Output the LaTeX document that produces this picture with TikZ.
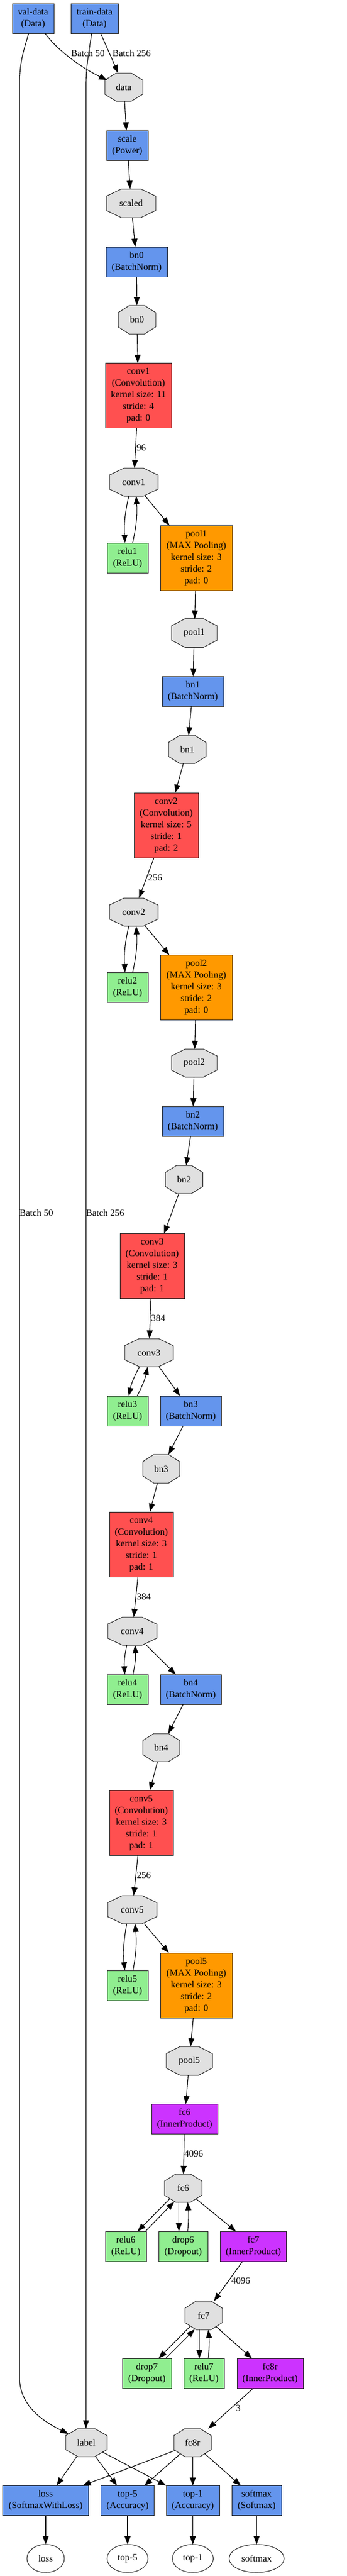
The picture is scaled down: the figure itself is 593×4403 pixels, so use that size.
\documentclass[tikz,border=0pt]{standalone}
\usepackage{fontspec}
\setmainfont{Liberation Serif}
\usetikzlibrary{arrows.meta,calc,backgrounds,shapes.geometric}
\definecolor{cblue}{HTML}{6495ED}
\definecolor{cred}{HTML}{FF5050}
\definecolor{corange}{HTML}{FF9900}
\definecolor{cgreen}{HTML}{90EE90}
\definecolor{cpurple}{HTML}{CC33FF}
\definecolor{cgray}{HTML}{E0E0E0}
\definecolor{bordercol}{HTML}{262626}
\newcommand{\fsz}{\fontsize{16pt}{20pt}\selectfont}
\begin{document}
\begin{tikzpicture}[x=1pt,y=-1pt,
  base/.style={font=\fsz, align=center, inner sep=0pt, outer sep=0pt},
  box/.style={base, rectangle, draw=bordercol, line width=1pt, minimum height=51pt},
  big/.style={box, minimum height=111pt},
  blayer/.style={box, fill=cblue},
  conv/.style={big, fill=cred},
  pool/.style={big, fill=corange},
  neuron/.style={box, fill=cgreen},
  ip/.style={box, fill=cpurple},
  blob/.style={base, rectangle, minimum height=48pt},
  octstyle/.style={fill=cgray, draw=bordercol, line width=1pt, line join=miter},
  outblob/.style={base, ellipse, draw=bordercol, line width=1pt, minimum height=48pt},
  arr/.style={line width=1.1pt, draw=black, -{Triangle[length=14pt,width=10pt]}},
  lbl/.style={base}]
\begin{pgfonlayer}{background}
\fill[white] (0,0) rectangle (593,4403);
\end{pgfonlayer}
\useasboundingbox (0,0) rectangle (593,4403);

% ---------- nodes ----------
\node[blayer, minimum width=71pt] (valdata) at (56.5,31.5) {val-data\\(Data)};
\node[blayer, minimum width=81pt] (traindata) at (161.5,31.5) {train-data\\(Data)};
\node[blob, minimum width=65pt] (data) at (211.5,149) {data};
\node[blayer, minimum width=71pt] (scale) at (217.5,248.5) {scale\\(Power)};
\node[blob, minimum width=84pt, minimum height=49pt] (scaled) at (224,347.5) {scaled};
\node[blayer, minimum width=105pt] (bn0) at (233.5,447.5) {bn0\\(BatchNorm)};
\node[blob, minimum width=64pt, minimum height=49pt] (bn0o) at (234,546.5) {bn0};
\node[conv, minimum width=113pt] (conv1) at (236.5,676) {conv1\\(Convolution)\\kernel size: 11\\stride: 4\\pad: 0};
\node[blob, minimum width=83pt] (conv1o) at (228.5,824) {conv1};
\node[neuron, minimum width=70pt] (relu1) at (218,953.5) {relu1\\(ReLU)};
\node[pool, minimum width=123pt] (pool1) at (335.5,953.5) {pool1\\(MAX Pooling)\\kernel size: 3\\stride: 2\\pad: 0};
\node[blob, minimum width=78pt, minimum height=49pt] (pool1o) at (332,1082) {pool1};
\node[blayer, minimum width=105pt] (bn1) at (329.5,1182) {bn1\\(BatchNorm)};
\node[blob, minimum width=64pt] (bn1o) at (320,1281) {bn1};
\node[conv, minimum width=110pt] (conv2) at (284,1410.5) {conv2\\(Convolution)\\kernel size: 5\\stride: 1\\pad: 2};
\node[blob, minimum width=83pt] (conv2o) at (228.5,1559) {conv2};
\node[neuron, minimum width=70pt] (relu2) at (218,1687.5) {relu2\\(ReLU)};
\node[pool, minimum width=123pt] (pool2) at (335.5,1688) {pool2\\(MAX Pooling)\\kernel size: 3\\stride: 2\\pad: 0};
\node[blob, minimum width=78pt] (pool2o) at (332,1817) {pool2};
\node[blayer, minimum width=105pt] (bn2) at (329.5,1916.5) {bn2\\(BatchNorm)};
\node[blob, minimum width=64pt] (bn2o) at (314.5,2016) {bn2};
\node[conv, minimum width=110pt] (conv3) at (260,2164) {conv3\\(Convolution)\\kernel size: 3\\stride: 1\\pad: 1};
\node[blob, minimum width=83pt] (conv3o) at (254.5,2312) {conv3};
\node[neuron, minimum width=70pt] (relu3) at (218,2411.5) {relu3\\(ReLU)};
\node[blayer, minimum width=104pt] (bn3) at (326,2411.5) {bn3\\(BatchNorm)};
\node[blob, minimum width=63pt, minimum height=49pt] (bn3o) at (275.5,2510.5) {bn3};
\node[conv, minimum width=109pt] (conv4) at (241.5,2639.5) {conv4\\(Convolution)\\kernel size: 3\\stride: 1\\pad: 1};
\node[blob, minimum width=84pt] (conv4o) at (226,2788) {conv4};
\node[neuron, minimum width=70pt] (relu4) at (218,2887.5) {relu4\\(ReLU)};
\node[blayer, minimum width=104pt] (bn4) at (326,2887.5) {bn4\\(BatchNorm)};
\node[blob, minimum width=63pt] (bn4o) at (275.5,2987) {bn4};
\node[conv, minimum width=109pt] (conv5) at (241.5,3115.5) {conv5\\(Convolution)\\kernel size: 3\\stride: 1\\pad: 1};
\node[blob, minimum width=84pt] (conv5o) at (226,3264) {conv5};
\node[neuron, minimum width=70pt] (relu5) at (218,3393.5) {relu5\\(ReLU)};
\node[pool, minimum width=123pt] (pool5) at (335.5,3393.5) {pool5\\(MAX Pooling)\\kernel size: 3\\stride: 2\\pad: 0};
\node[blob, minimum width=79pt, minimum height=49pt] (pool5o) at (323.5,3522.5) {pool5};
\node[ip, minimum width=113pt] (fc6) at (315.5,3622) {fc6\\(InnerProduct)};
\node[blob, minimum width=64pt] (fc6o) at (313,3740) {fc6};
\node[neuron, minimum width=70pt] (relu6) at (215,3839.5) {relu6\\(ReLU)};
\node[neuron, minimum width=84pt] (drop6) at (313,3839.5) {drop6\\(Dropout)};
\node[ip, minimum width=113pt] (fc7) at (433,3839.5) {fc7\\(InnerProduct)};
\node[blob, minimum width=64pt, minimum height=49pt] (fc7o) at (348,3957.5) {fc7};
\node[neuron, minimum width=84pt] (drop7) at (251,4056.5) {drop7\\(Dropout)};
\node[neuron, minimum width=69pt] (relu7) at (348.5,4056.5) {relu7\\(ReLU)};
\node[ip, minimum width=113pt] (fc8r) at (461.5,4056.5) {fc8r\\(InnerProduct)};
\node[blob, minimum width=71pt] (label) at (147.5,4175) {label};
\node[blob, minimum width=64pt] (fc8ro) at (329,4175) {fc8r};
\node[blayer, minimum width=147pt] (loss) at (78,4274) {loss\\(SoftmaxWithLoss)};
\node[blayer, minimum width=91pt] (top5) at (218,4274) {top-5\\(Accuracy)};
\node[blayer, minimum width=91pt] (top1) at (329.5,4274) {top-1\\(Accuracy)};
\node[blayer, minimum width=85pt] (softmax) at (438.5,4274) {softmax\\(Softmax)};
\node[outblob, minimum width=64pt] (lossout) at (78,4373) {loss};
\node[outblob, minimum width=70pt] (top5out) at (218,4373) {top-5};
\node[outblob, minimum width=70pt] (top1out) at (329.5,4373) {top-1};
\node[outblob, minimum width=94pt] (softmaxout) at (438.5,4373) {softmax};

% ---------- octagon outlines for blobs ----------
\begin{pgfonlayer}{background}
\foreach \n/\w/\h in {data/65/48, scaled/84/49, bn0o/64/49, conv1o/83/48, pool1o/78/49,
  bn1o/64/48, conv2o/83/48, pool2o/78/48, bn2o/64/48, conv3o/83/48, bn3o/63/49,
  conv4o/84/48, bn4o/63/48, conv5o/84/48, pool5o/79/49, fc6o/64/48, fc7o/64/49,
  label/71/48, fc8ro/64/48} {
  \path[octstyle] ($(\n.north west)+(0.3*\w,0)$) -- ($(\n.north east)+(-0.3*\w,0)$)
    -- ($(\n.north east)+(0,0.25*\h)$) -- ($(\n.south east)+(0,-0.25*\h)$)
    -- ($(\n.south east)+(-0.3*\w,0)$) -- ($(\n.south west)+(0.3*\w,0)$)
    -- ($(\n.south west)+(0,-0.25*\h)$) -- ($(\n.north west)+(0,0.25*\h)$) -- cycle;
}
\end{pgfonlayer}

% ---------- data inputs ----------
\draw[arr] ($(valdata.south)+(-7.5,0)$) .. controls (41,85) and (33.3,105) .. (33.3,145)
  -- (33.3,4063) .. controls (33.3,4110) and (70,4137) .. ($(label.north west)+(5,9)$);
\draw[arr] ($(valdata.south)+(20.5,0)$) .. controls (100,88) and (140,116) .. ($(data.north west)+(4,12)$);
\draw[arr] ($(traindata.south)+(10.5,0)$) -- ($(data.north)+(-9.5,0)$);
\draw[arr] ($(traindata.south)+(-4.8,0)$) .. controls (151,95) and (147,115) .. (147,145)
  -- ($(label.north)+(-0.5,0)$);

% ---------- main chain ----------
\draw[arr] (data) -- (scale);
\draw[arr] (scale) -- (scaled);
\draw[arr] (scaled) -- (bn0);
\draw[arr] (bn0) -- (bn0o);
\draw[arr] (bn0o) -- (conv1);
\draw[arr] (conv1) -- (conv1o);
\draw[arr] (conv1o) -- (pool1);
\draw[arr] (pool1) -- (pool1o);
\draw[arr] (pool1o) -- (bn1);
\draw[arr] (bn1) -- (bn1o);
\draw[arr] (bn1o) -- (conv2);
\draw[arr] (conv2) -- (conv2o);
\draw[arr] (conv2o) -- (pool2);
\draw[arr] (pool2) -- (pool2o);
\draw[arr] (pool2o) -- (bn2);
\draw[arr] (bn2) -- (bn2o);
\draw[arr] (bn2o) -- (conv3);
\draw[arr] (conv3) -- (conv3o);
\draw[arr] (conv3o) -- (bn3);
\draw[arr] (bn3) -- (bn3o);
\draw[arr] (bn3o) -- (conv4);
\draw[arr] (conv4) -- (conv4o);
\draw[arr] (conv4o) -- (bn4);
\draw[arr] (bn4) -- (bn4o);
\draw[arr] (bn4o) -- (conv5);
\draw[arr] (conv5) -- (conv5o);
\draw[arr] (conv5o) -- (pool5);
\draw[arr] (pool5) -- (pool5o);
\draw[arr] (pool5o) -- (fc6);
\draw[arr] (fc6) -- (fc6o);
\draw[arr] (fc7) -- (fc7o);
\draw[arr] (fc8r) -- (fc8ro);

% ---------- in-place layers ----------
\draw[arr] ($(conv1o.south)+(-8.5,0)$) to[bend right=8] ($(relu1.north)+(-4.3,0)$);
\draw[arr] ($(relu1.north)+(8.7,0)$) to[bend right=8] ($(conv1o.south)+(4.2,0)$);
\draw[arr] ($(conv2o.south)+(-8.5,0)$) to[bend right=8] ($(relu2.north)+(-4.3,0)$);
\draw[arr] ($(relu2.north)+(8.7,0)$) to[bend right=8] ($(conv2o.south)+(4.2,0)$);
\draw[arr] ($(conv3o.south)+(-16.2,0)$) to[bend right=8] ($(relu3.north)+(2,0)$);
\draw[arr] ($(relu3.north)+(16.3,0)$) to[bend right=8] ($(conv3o.south)+(-2.2,0)$);
\draw[arr] ($(conv4o.south)+(-9.3,0)$) to[bend right=8] ($(relu4.north)+(-4.7,0)$);
\draw[arr] ($(relu4.north)+(9.3,0)$) to[bend right=8] ($(conv4o.south)+(4.7,0)$);
\draw[arr] ($(conv5o.south)+(-9.3,0)$) to[bend right=8] ($(relu5.north)+(-4.7,0)$);
\draw[arr] ($(relu5.north)+(9.3,0)$) to[bend right=8] ($(conv5o.south)+(4.7,0)$);

% fc6 fan
\draw[arr] ($(fc6o.south west)+(9,-5.7)$) -- ($(relu6.north)+(20,0)$);
\draw[arr] ($(relu6.north)+(33.3,0)$) -- ($(fc6o.south west)+(16.7,-0.7)$);
\draw[arr] ($(fc6o.south)+(-7.3,0)$) -- ($(drop6.north)+(-7.3,0)$);
\draw[arr] ($(drop6.north)+(7.7,0)$) to[bend right=5] ($(fc6o.south)+(7.7,0)$);
\draw[arr] ($(fc6o.south east)+(-10,-5.7)$) -- ($(fc7.north)+(-29.7,0)$);

% fc7 fan
\draw[arr] ($(fc7o.south west)+(9,-5.7)$) -- ($(drop7.north)+(20,0)$);
\draw[arr] ($(drop7.north)+(32,0)$) -- ($(fc7o.south west)+(16.7,-0.7)$);
\draw[arr] ($(fc7o.south)+(-7.3,0)$) -- ($(relu7.north)+(-7.8,0)$);
\draw[arr] ($(relu7.north)+(7.5,0)$) to[bend right=5] ($(fc7o.south)+(8,0)$);
\draw[arr] ($(fc7o.south east)+(-10.7,-5.3)$) -- ($(fc8r.north)+(-31,0)$);

% outputs
\draw[arr] ($(label.south)+(-16.5,0)$) -- ($(loss.north)+(18.7,0)$);
\draw[arr] ($(label.south)+(15.8,0)$) -- ($(top5.north)+(-18,0)$);
\draw[arr] ($(label.south east)+(-8,-8)$) -- (top1.north west);
\draw[arr] ($(fc8ro.south west)+(2.3,-10.7)$) -- ($(loss.north east)+(-10.3,0)$);
\draw[arr] ($(fc8ro.south west)+(11.3,-5)$) -- ($(top5.north)+(28.7,0)$);
\draw[arr] ($(fc8ro.south)+(0.3,0)$) -- (top1.north);
\draw[arr] ($(fc8ro.south east)+(-11,-5)$) -- ($(softmax.north)+(-27,0)$);
\draw[arr] (loss) -- (lossout);
\draw[arr] (top5) -- (top5out);
\draw[arr] (top1) -- (top1out);
\draw[arr] (softmax) -- (softmaxout);

% ---------- edge labels ----------
\node[lbl] (lb50a) at (150.3,90.7) {Batch 50};
\node[lbl] (lb256a) at (225,90.7) {Batch 256};
\node[lbl] (lb50b) at (62.3,2073) {Batch 50};
\node[lbl] (lb256b) at (179.8,2073) {Batch 256};
\node[lbl] (l96) at (241.3,765) {96};
\node[lbl] (l256a) at (265,1500) {256};
\node[lbl] (l384a) at (270.3,2253) {384};
\node[lbl] (l384b) at (245.8,2729.3) {384};
\node[lbl] (l256b) at (245.8,3205.7) {256};
\node[lbl] (l4096a) at (331.2,3681) {4096};
\node[lbl] (l4096b) at (411.3,3898.3) {4096};
\node[lbl] (l3) at (407,4116) {3};
\end{tikzpicture}
\end{document}
